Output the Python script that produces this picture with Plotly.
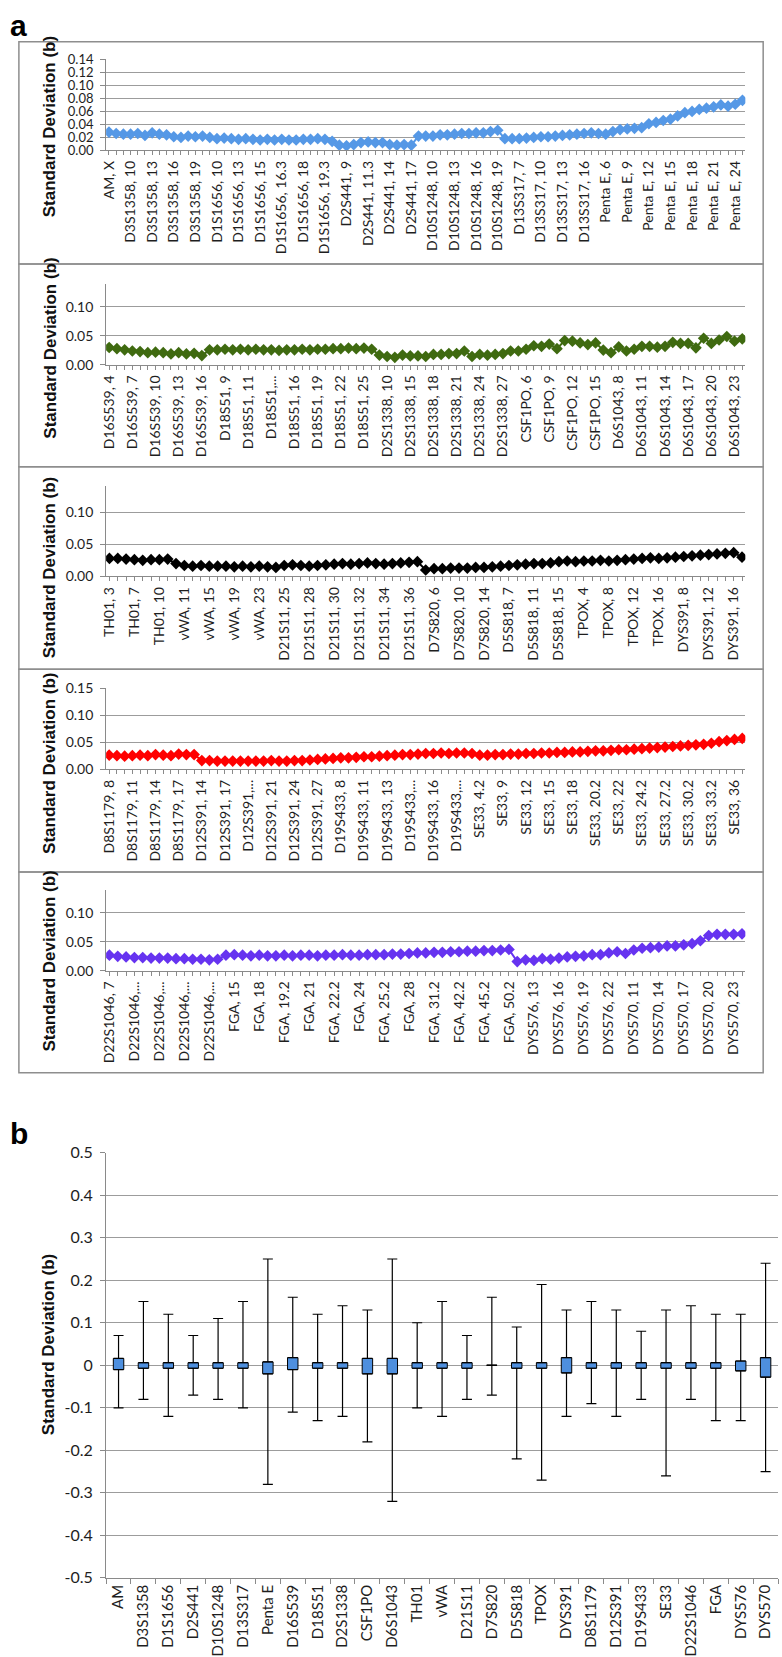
import plotly.graph_objects as go

W, H = 782, 1657

# ---------------- DATA ----------------
p1_labels = ["AM, X", "D3S1358, 10", "D3S1358, 13", "D3S1358, 16", "D3S1358, 19",
             "D1S1656, 10", "D1S1656, 13", "D1S1656, 15", "D1S1656, 16.3", "D1S1656, 18",
             "D1S1656, 19.3", "D2S441, 9", "D2S441, 11.3", "D2S441, 14", "D2S441, 17",
             "D10S1248, 10", "D10S1248, 13", "D10S1248, 16", "D10S1248, 19", "D13S317, 7",
             "D13S317, 10", "D13S317, 13", "D13S317, 16", "Penta E, 6", "Penta E, 9",
             "Penta E, 12", "Penta E, 15", "Penta E, 18", "Penta E, 21", "Penta E, 24"]
p1_values = [0.028, 0.026, 0.025, 0.025, 0.026, 0.023,
             0.027, 0.025, 0.024, 0.021, 0.020, 0.022,
             0.021, 0.022, 0.020, 0.018, 0.019, 0.018,
             0.017, 0.018, 0.017, 0.016, 0.017, 0.016,
             0.017, 0.016, 0.016, 0.017, 0.017, 0.018, 0.017,
             0.014,
             0.008, 0.007, 0.009, 0.012, 0.013, 0.012, 0.012, 0.009, 0.008, 0.009, 0.008,
             0.022, 0.022, 0.022, 0.024, 0.024, 0.025, 0.026, 0.026, 0.027, 0.027, 0.029, 0.031,
             0.018, 0.018, 0.018, 0.019, 0.020, 0.021, 0.021, 0.022, 0.023, 0.024, 0.025, 0.026,
             0.027, 0.026, 0.025, 0.029, 0.032, 0.033, 0.034, 0.035, 0.041, 0.043, 0.046, 0.048,
             0.053, 0.058, 0.060, 0.063, 0.065, 0.067, 0.070, 0.068, 0.071, 0.077]

p2_labels = ["D16S539, 4", "D16S539, 7", "D16S539, 10", "D16S539, 13", "D16S539, 16",
             "D18S51, 9", "D18S51, 11", "D18S51,...", "D18S51, 16", "D18S51, 19",
             "D18S51, 22", "D18S51, 25", "D2S1338, 10", "D2S1338, 15", "D2S1338, 18",
             "D2S1338, 21", "D2S1338, 24", "D2S1338, 27", "CSF1PO, 6", "CSF1PO, 9",
             "CSF1PO, 12", "CSF1PO, 15", "D6S1043, 8", "D6S1043, 11", "D6S1043, 14",
             "D6S1043, 17", "D6S1043, 20", "D6S1043, 23"]
p2_values = [0.030, 0.028, 0.026, 0.024, 0.023, 0.021, 0.022, 0.021, 0.019, 0.021, 0.019, 0.020, 0.016,
             0.026, 0.026, 0.027, 0.026, 0.027, 0.026, 0.027, 0.026, 0.026, 0.025, 0.026,
             0.026, 0.027, 0.026, 0.027, 0.027, 0.028, 0.028, 0.029, 0.028, 0.029, 0.027,
             0.017, 0.0145, 0.013, 0.017, 0.0155, 0.0155, 0.0145, 0.018, 0.018, 0.0195, 0.0195, 0.024,
             0.0145, 0.018, 0.0167, 0.018, 0.0195, 0.024, 0.024, 0.027, 0.033, 0.032, 0.036, 0.028,
             0.042, 0.041, 0.038, 0.035, 0.038, 0.0255, 0.021, 0.031, 0.024, 0.027, 0.032, 0.032,
             0.0305, 0.032, 0.039, 0.037, 0.037, 0.0295, 0.046, 0.037, 0.043, 0.049, 0.041, 0.045]

p3_labels = ["TH01, 3", "TH01, 7", "TH01, 10", "vWA, 11", "vWA, 15", "vWA, 19", "vWA, 23",
             "D21S11, 25", "D21S11, 28", "D21S11, 30", "D21S11, 32", "D21S11, 34", "D21S11, 36",
             "D7S820, 6", "D7S820, 10", "D7S820, 14", "D5S818, 7", "D5S818, 11", "D5S818, 15",
             "TPOX, 4", "TPOX, 8", "TPOX, 12", "TPOX, 16", "DYS391, 8", "DYS391, 12", "DYS391, 16"]
p3_values = [0.028, 0.028, 0.027, 0.026, 0.025, 0.026, 0.026, 0.027,
             0.020, 0.017, 0.016, 0.017, 0.016, 0.016, 0.016, 0.015, 0.016, 0.015,
             0.016, 0.015, 0.014, 0.017, 0.018, 0.017, 0.016, 0.017, 0.018, 0.019,
             0.020, 0.019, 0.020, 0.021, 0.020, 0.019, 0.020, 0.021, 0.022, 0.023,
             0.010, 0.012, 0.012, 0.013, 0.013, 0.013, 0.014, 0.014, 0.015, 0.016,
             0.017, 0.018, 0.019, 0.020, 0.020, 0.021, 0.023, 0.024, 0.023, 0.024,
             0.024, 0.025, 0.024, 0.025, 0.026, 0.027, 0.028, 0.029, 0.028, 0.029,
             0.030, 0.031, 0.032, 0.033, 0.034, 0.035, 0.036, 0.037, 0.030]

p4_labels = ["D8S1179, 8", "D8S1179, 11", "D8S1179, 14", "D8S1179, 17", "D12S391, 14",
             "D12S391, 17", "D12S391,...", "D12S391, 21", "D12S391, 24", "D12S391, 27",
             "D19S433, 8", "D19S433, 11", "D19S433, 13", "D19S433,...", "D19S433, 16",
             "D19S433,...", "SE33, 4.2", "SE33, 9", "SE33, 12", "SE33, 15", "SE33, 18",
             "SE33, 20.2", "SE33, 22", "SE33, 24.2", "SE33, 27.2", "SE33, 30.2", "SE33, 33.2",
             "SE33, 36"]
p4_values = [0.026, 0.025, 0.024, 0.025, 0.026, 0.025, 0.027, 0.026, 0.025, 0.028, 0.027, 0.027,
             0.016, 0.016, 0.015, 0.015, 0.015, 0.015, 0.015, 0.015, 0.015, 0.016,
             0.015, 0.015, 0.016, 0.016, 0.017, 0.018, 0.019, 0.020, 0.021, 0.021,
             0.022, 0.023, 0.023, 0.024, 0.025, 0.026, 0.027, 0.027, 0.028, 0.029,
             0.029, 0.030, 0.029, 0.030, 0.030, 0.029,
             0.026, 0.026, 0.027, 0.027, 0.028, 0.028, 0.029, 0.029, 0.030, 0.030,
             0.031, 0.031, 0.032, 0.032, 0.033, 0.034, 0.034, 0.035, 0.036, 0.036,
             0.037, 0.038, 0.039, 0.040, 0.041, 0.042, 0.043, 0.044, 0.045, 0.046,
             0.048, 0.051, 0.053, 0.055, 0.057]

p5_labels = ["D22S1046, 7", "D22S1046,...", "D22S1046,...", "D22S1046,...", "D22S1046,...",
             "FGA, 15", "FGA, 18", "FGA, 19.2", "FGA, 21", "FGA, 22.2", "FGA, 24", "FGA, 25.2",
             "FGA, 28", "FGA, 31.2", "FGA, 42.2", "FGA, 45.2", "FGA, 50.2", "DYS576, 13",
             "DYS576, 16", "DYS576, 19", "DYS576, 22", "DYS570, 11", "DYS570, 14", "DYS570, 17",
             "DYS570, 20", "DYS570, 23"]
p5_values = [0.027, 0.025, 0.024, 0.023, 0.023, 0.022, 0.022, 0.022, 0.021, 0.021, 0.020, 0.020, 0.019, 0.020,
             0.027, 0.028, 0.027, 0.026, 0.027, 0.026, 0.026, 0.027, 0.026, 0.027, 0.027, 0.026,
             0.027, 0.027, 0.028, 0.027, 0.027, 0.028, 0.028, 0.028, 0.029, 0.029, 0.030, 0.031,
             0.031, 0.032, 0.032, 0.033, 0.033, 0.034, 0.034, 0.035, 0.035, 0.036, 0.037,
             0.016, 0.019, 0.018, 0.021, 0.020, 0.022, 0.024, 0.025, 0.026, 0.028, 0.028, 0.031,
             0.033, 0.030, 0.036, 0.039, 0.040, 0.041, 0.043, 0.043, 0.045, 0.047, 0.052, 0.061,
             0.063, 0.063, 0.063, 0.064]

b_markers = ["AM", "D3S1358", "D1S1656", "D2S441", "D10S1248", "D13S317", "Penta E", "D16S539",
             "D18S51", "D2S1338", "CSF1PO", "D6S1043", "TH01", "vWA", "D21S11", "D7S820", "D5S818",
             "TPOX", "DYS391", "D8S1179", "D12S391", "D19S433", "SE33", "D22S1046", "FGA",
             "DYS576", "DYS570"]
b_q1 = [-0.010, -0.007, -0.007, -0.007, -0.007, -0.007, -0.020, -0.010, -0.007, -0.007, -0.020,
        -0.020, -0.007, -0.007, -0.007, 0.0, -0.007, -0.007, -0.018, -0.007, -0.007, -0.007,
        -0.007, -0.007, -0.007, -0.013, -0.028]
b_q3 = [0.016, 0.006, 0.006, 0.006, 0.006, 0.006, 0.008, 0.018, 0.006, 0.006, 0.016,
        0.016, 0.006, 0.006, 0.006, 0.0, 0.006, 0.006, 0.018, 0.006, 0.006, 0.006,
        0.006, 0.006, 0.006, 0.010, 0.018]
b_low = [-0.10, -0.08, -0.12, -0.07, -0.08, -0.10, -0.28, -0.11, -0.13, -0.12, -0.18, -0.32,
         -0.10, -0.12, -0.08, -0.07, -0.22, -0.27, -0.12, -0.09, -0.12, -0.08, -0.26, -0.08,
         -0.13, -0.13, -0.25]
b_high = [0.07, 0.15, 0.12, 0.07, 0.11, 0.15, 0.25, 0.16, 0.12, 0.14, 0.13, 0.25,
          0.10, 0.15, 0.07, 0.16, 0.09, 0.19, 0.13, 0.15, 0.13, 0.08, 0.13, 0.14,
          0.12, 0.12, 0.24]

# ---------------- STYLE ----------------
GRID = '#9C9C9C'
AXIS = '#8A8A8A'
TXT = '#1E1E1E'
LATO = 'Lato, Carlito, Calibri, sans-serif'
ARIAL = 'Liberation Sans, Arial, sans-serif'


def fx(p):
    return p / W


def fy(p):
    return 1 - p / H


fig = go.Figure()
layout = {}

panels = [
    (p1_values, p1_labels, '#5598E6', 50, 142, 0.14, [0, 0.02, 0.04, 0.06, 0.08, 0.10, 0.12, 0.14], 118, 13),
    (p2_values, p2_labels, '#3F6A10', 277, 359, 0.14, [0, 0.05, 0.10], 342, 14),
    (p3_values, p3_labels, '#000000', 482, 573, 0.14, [0, 0.05, 0.10], 564, 14),
    (p4_values, p4_labels, '#FF0000', 686, 768, 0.15, [0, 0.05, 0.10, 0.15], 762, 14),
    (p5_values, p5_labels, '#6633F0', 890, 972, 0.14, [0, 0.05, 0.10], 962, 14),
]

annotations = []
shapes = []

for i, (vals, labs, col, ytop, ybot, ymax, yticks, tcy, yfs) in enumerate(panels, start=1):
    s = '' if i == 1 else str(i)
    n = len(vals)
    xs = list(range(n))
    ticktext = [labs[k // 3] if (k % 3 == 0 and k // 3 < len(labs)) else '' for k in xs]
    fig.add_trace(go.Scatter(
        x=xs, y=vals, mode='lines+markers',
        line=dict(color=col, width=2),
        marker=dict(symbol='diamond', size=9, color=col, line=dict(width=0)),
        xaxis='x' + s, yaxis='y' + s, showlegend=False, hoverinfo='skip'))
    layout['xaxis' + s] = dict(
        domain=[fx(100), fx(745)], anchor='y' + s,
        range=[-0.4, n - 0.6], tickmode='array', tickvals=xs, ticktext=ticktext,
        tickangle=-90, ticks='outside', ticklen=4, tickcolor=AXIS, tickwidth=1,
        showline=True, linecolor=AXIS, linewidth=1, showgrid=False, zeroline=False,
        tickfont=dict(family=LATO, size=14, color=TXT))
    layout['yaxis' + s] = dict(
        domain=[fy(ybot), fy(ytop)], anchor='x' + s,
        range=[0, ymax], tickmode='array', tickvals=yticks, tickformat='.2f',
        ticks='outside', ticklen=5, tickcolor=AXIS, showline=True, linecolor=AXIS, linewidth=1,
        showgrid=True, gridcolor=GRID, gridwidth=1, zeroline=False,
        tickfont=dict(family=LATO, size=yfs, color=TXT), ticklabelstandoff=4)
    annotations.append(dict(
        text='<b>Standard Deviation (b)</b>', textangle=-90, xref='paper', yref='paper',
        x=fx(43), y=fy(tcy), xanchor='center', yanchor='middle', showarrow=False,
        font=dict(family=ARIAL, size=17, color='#111111')))

# panel frames
tops = [32, 257, 462, 667, 872, 1075]
for k in range(5):
    shapes.append(dict(type='rect', xref='paper', yref='paper',
                       x0=fx(12), x1=fx(763), y0=fy(tops[k + 1]), y1=fy(tops[k]),
                       line=dict(color='#8E8E8E', width=1.5), fillcolor='rgba(0,0,0,0)', layer='above'))

# ---------------- PANEL b ----------------
nb = len(b_markers)
fig.add_trace(go.Bar(
    x=b_markers, y=[h - l for h, l in zip(b_q3, b_q1)], base=b_q1, width=0.42,
    marker=dict(color='#4E8FDE', line=dict(color='#000000', width=1)),
    xaxis='x6', yaxis='y6', showlegend=False, hoverinfo='skip'))
fig.add_trace(go.Scatter(
    x=b_markers, y=b_q3, mode='markers', marker=dict(size=1, opacity=0),
    error_y=dict(type='data', symmetric=False, array=[h - q for h, q in zip(b_high, b_q3)],
                 arrayminus=[0] * nb, color='#000000', thickness=1.2, width=5),
    xaxis='x6', yaxis='y6', showlegend=False, hoverinfo='skip'))
fig.add_trace(go.Scatter(
    x=b_markers, y=b_q1, mode='markers', marker=dict(size=1, opacity=0),
    error_y=dict(type='data', symmetric=False, array=[0] * nb,
                 arrayminus=[q - l for q, l in zip(b_q1, b_low)], color='#000000', thickness=1.2, width=5),
    xaxis='x6', yaxis='y6', showlegend=False, hoverinfo='skip'))

b_yticks = [0.5, 0.4, 0.3, 0.2, 0.1, 0, -0.1, -0.2, -0.3, -0.4, -0.5]
b_yticktext = ['0.5', '0.4', '0.3', '0.2', '0.1', '0', '-0.1', '-0.2', '-0.3', '-0.4', '-0.5']

layout['xaxis6'] = dict(
    domain=[fx(100), fx(778)], anchor='y6', type='category', categoryorder='array',
    categoryarray=b_markers, range=[-0.5, nb - 0.5], tickson='boundaries', ticks='outside',
    ticklen=5, tickcolor=AXIS, tickangle=-90, showline=True, linecolor=AXIS, linewidth=1,
    showgrid=False, zeroline=False, tickfont=dict(family=LATO, size=15, color=TXT))
layout['yaxis6'] = dict(
    domain=[fy(1586), fy(1156)], anchor='x6', range=[-0.5, 0.5], tickmode='array',
    tickvals=b_yticks, ticktext=b_yticktext, ticks='outside', ticklen=5, tickcolor=AXIS,
    showline=True, linecolor=AXIS, linewidth=1, showgrid=True, gridcolor=GRID, gridwidth=1,
    zeroline=False, tickfont=dict(family=LATO, size=16, color=TXT), ticklabelstandoff=4)

annotations.append(dict(
    text='<b>Standard Deviation (b)</b>', textangle=-90, xref='paper', yref='paper',
    x=fx(42), y=fy(1350), xanchor='center', yanchor='middle', showarrow=False,
    font=dict(family=ARIAL, size=17, color='#111111')))

annotations.append(dict(text='<b>a</b>', xref='paper', yref='paper', x=fx(1), y=fy(16),
                        xanchor='left', yanchor='middle', showarrow=False,
                        font=dict(family=ARIAL, size=30, color='#000000')))
annotations.append(dict(text='<b>b</b>', xref='paper', yref='paper', x=fx(1), y=fy(1137),
                        xanchor='left', yanchor='middle', showarrow=False,
                        font=dict(family=ARIAL, size=30, color='#000000')))

fig.update_layout(
    width=W, height=H, margin=dict(l=0, r=0, t=0, b=0),
    paper_bgcolor='white', plot_bgcolor='white', showlegend=False,
    annotations=annotations, shapes=shapes, **layout)

fig.write_html("out.html", config={'displayModeBar': False},
               post_script="document.body.style.margin='0';document.body.style.overflow='hidden';")
